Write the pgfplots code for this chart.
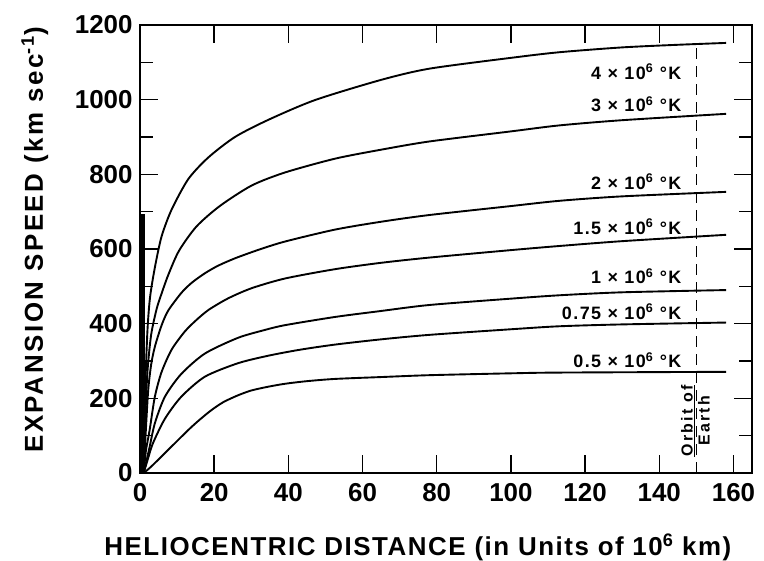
\documentclass[border=0pt]{standalone}
\usepackage{fontspec}
\setmainfont{Liberation Sans}
\usepackage{pgfplots}
\pgfplotsset{compat=1.18}
\tikzset{curve/.style={black, line width=1.9pt, smooth, tension=0.45, mark=none}}
\begin{document}
\begin{tikzpicture}
\begin{axis}[
  scale only axis, width=612bp, height=448bp,
  xmin=0, xmax=165, ymin=0, ymax=1200,
  axis line style={line width=1.8pt},
  xtick={0,20,...,160}, ytick={0,200,...,1200},
  minor ytick={100,300,...,1100},
  tick align=inside, major tick length=18bp, minor tick length=13bp,
  every tick/.style={line width=1.4pt, black},
  ticklabel style={font=\fontsize{26}{28}\selectfont\bfseries},
  xticklabel style={yshift=-7bp},
  yticklabel style={xshift=-4bp},
  /pgf/number format/assume math mode=true,
  /pgf/number format/1000 sep={},
  xlabel={\addfontfeatures{LetterSpace=6}HELIOCENTRIC DISTANCE (in Units of 10\textsuperscript{6} km)},
  ylabel={\addfontfeatures{LetterSpace=10}EXPANSION SPEED (km sec\textsuperscript{-1})},
  label style={font=\fontsize{26}{28}\selectfont\bfseries},
  xlabel style={at={(axis description cs:0.454,-0.167)}, anchor=center},
  ylabel style={at={(axis description cs:-0.172,0.52)}, anchor=center},
  clip=false,
]
\coordinate (O) at (axis cs:0,0);
% 4 x 10^6 K
\addplot[curve] coordinates {
 (1,0) (1.4,220) (2,380) (2.7,470) (4,550) (5.8,633) (8.5,705) (13,787) (18.4,845) (25.6,900) (34.6,946) (47.2,999) (65,1053) (78,1083) (100,1112) (113,1127) (130,1140) (145,1147) (158,1152)};
% 3 x 10^6 K
\addplot[curve] coordinates {
 (1,0) (1.4,140) (2,270) (3,370) (4.5,440) (5.8,480) (7.6,530) (10.5,595) (15.2,660) (21.5,715) (30.1,770) (39.1,805) (52.6,842) (65,866) (78,888) (100,915) (113,931) (130,945) (158,962)};
% 2 x 10^6 K
\addplot[curve] coordinates {
 (1,0) (1.5,100) (2.2,220) (3,290) (4,338) (5.8,395) (7.6,435) (11.2,483) (14,510) (17.5,535) (21,555) (25.6,575) (32,598) (39.1,620) (52.6,652) (65,673) (78,691) (100,715) (113,729) (130,741) (158,753)};
% 1.5 x 10^6 K
\addplot[curve] coordinates {
 (1,0) (1.6,60) (2.6,115) (4,204) (5.8,270) (8.5,330) (12,378) (15,408) (18.5,437) (23.8,468) (30.1,495) (39.1,521) (52.6,546) (65,563) (78,577) (100,597) (113,608) (130,621) (158,638)};
% 1 x 10^6 K
\addplot[curve] coordinates {
 (1,0) (1.8,35) (2.6,70) (4,133) (6.7,204) (11.1,265) (17.5,320) (26.4,362) (33.6,383) (39.1,396) (52.6,418) (65,434) (78,450) (100,467) (113,476) (130,484) (158,490)};
% 0.75 x 10^6 K
\addplot[curve] coordinates {
 (1,0) (2.2,40) (3.5,80) (6.7,145) (11.1,204) (17.5,258) (26.4,294) (34.5,314) (43,330) (52.6,344) (65,358) (78,370) (100,385) (113,393) (130,398) (158,403)};
% 0.5 x 10^6 K
\addplot[curve] coordinates {
 (1,0) (3,17) (7.6,62) (13,115) (16,142) (19.2,168) (22.5,190) (26.4,208) (30,221) (34.5,231) (39.1,239) (45,246) (52.6,252) (65,257) (78,262) (100,267) (113,269) (158,271)};
% thick bar along the left axis
\addplot[black, mark=none, line width=3.5pt] coordinates {(0.8,0) (0.8,695)};
% orbit of Earth
\addplot[black, mark=none, line width=1.3pt, dash pattern=on 11bp off 7bp] coordinates {(150,0) (150,1150)};
\node[rotate=90, anchor=south, font=\fontsize{16}{18}\selectfont\bfseries, inner sep=1.5bp] at (axis cs:150,140) {\addfontfeatures{LetterSpace=15}\underline{Orbit of}};
\node[rotate=90, anchor=north, font=\fontsize{16}{18}\selectfont\bfseries, inner sep=1.5bp] at (axis cs:150,140) {\addfontfeatures{LetterSpace=15}Earth};
% curve labels
\begin{scope}[every node/.style={anchor=east, font=\fontsize{18}{20}\selectfont\bfseries, inner sep=0pt}]
\node at (axis cs:146,1075) {\addfontfeatures{LetterSpace=8}4 × 10\textsuperscript{6} °K};
\node at (axis cs:146,987) {\addfontfeatures{LetterSpace=8}3 × 10\textsuperscript{6} °K};
\node at (axis cs:146,780) {\addfontfeatures{LetterSpace=8}2 × 10\textsuperscript{6} °K};
\node at (axis cs:146,660) {\addfontfeatures{LetterSpace=8}1.5 × 10\textsuperscript{6} °K};
\node at (axis cs:146,528) {\addfontfeatures{LetterSpace=8}1 × 10\textsuperscript{6} °K};
\node at (axis cs:146,432) {\addfontfeatures{LetterSpace=8}0.75 × 10\textsuperscript{6} °K};
\node at (axis cs:146,303) {\addfontfeatures{LetterSpace=8}0.5 × 10\textsuperscript{6} °K};
\end{scope}
\end{axis}
\pgfresetboundingbox
\path[use as bounding box] (O) ++(-140bp,-88bp) rectangle ++(764bp,561bp);
\end{tikzpicture}
\end{document}
